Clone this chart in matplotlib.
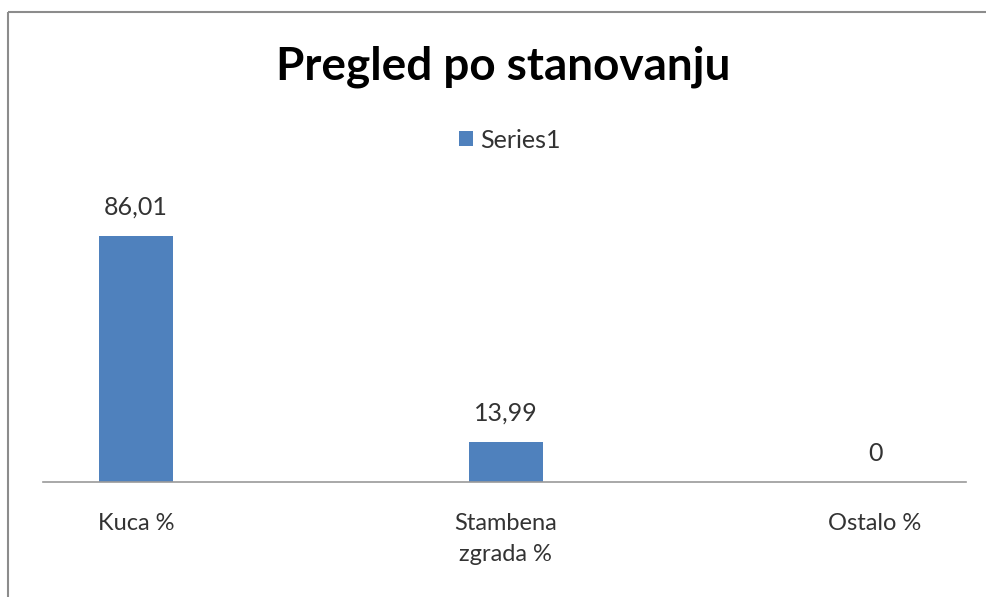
import matplotlib.pyplot as plt
from matplotlib.lines import Line2D

categories = ['Kuca %', 'Stambena\nzgrada %', 'Ostalo %']
values = [86.01, 13.99, 0]
value_labels = ['86,01', '13,99', '0']
series_name = 'Series1'
title = 'Pregled po stanovanju'

plt.rcParams['font.family'] = ['Lato', 'DejaVu Sans']

W, H = 987, 597
fig = plt.figure(figsize=(W / 100, H / 100), dpi=100)

# outer chart frame: only top and left edges are visible in the picture
frame = dict(transform=fig.transFigure, color='#8c8c8c', linewidth=1.5,
             solid_capstyle='butt')
fig.lines.append(Line2D([8 / W, 1.05], [1 - 12 / H] * 2, **frame))
fig.lines.append(Line2D([8 / W] * 2, [-0.05, 1 - 12 / H], **frame))

ax = fig.add_axes([43 / W, 1 - 482 / H, 923 / W, (482 - 180) / H])
x = range(len(categories))
bars = ax.bar(x, values, width=0.2, color='#4F81BD', label=series_name)
ax.set_xlim(-0.252, 2.246)
ax.set_ylim(0, 302 / 2.86)

for rect, lab in zip(bars, value_labels):
    ax.annotate(lab, (rect.get_x() + rect.get_width() / 2, rect.get_height()),
                xytext=(0, 12.5), textcoords='offset points', ha='center', va='bottom',
                fontsize=18, color='#333333')

ax.set_xticks(list(x))
ax.set_xticklabels(categories, fontsize=17, color='#333333', linespacing=1.6)
ax.tick_params(axis='x', length=0, pad=22)
ax.set_yticks([])
for s in ['top', 'right', 'left']:
    ax.spines[s].set_visible(False)
ax.spines['bottom'].set_color('#9a9a9a')
ax.spines['bottom'].set_linewidth(1.2)

fig.text(503 / W, 1 - 80 / H, title, ha='center', va='baseline',
         fontsize=33, fontweight='bold', color='black')
fig.legend(loc='center', bbox_to_anchor=(510 / W, 1 - 140 / H), frameon=False,
           fontsize=18, handlelength=0.55, handleheight=0.55, handletextpad=0.3,
           labelcolor='#333333')

fig.savefig('out.png', dpi=100)
